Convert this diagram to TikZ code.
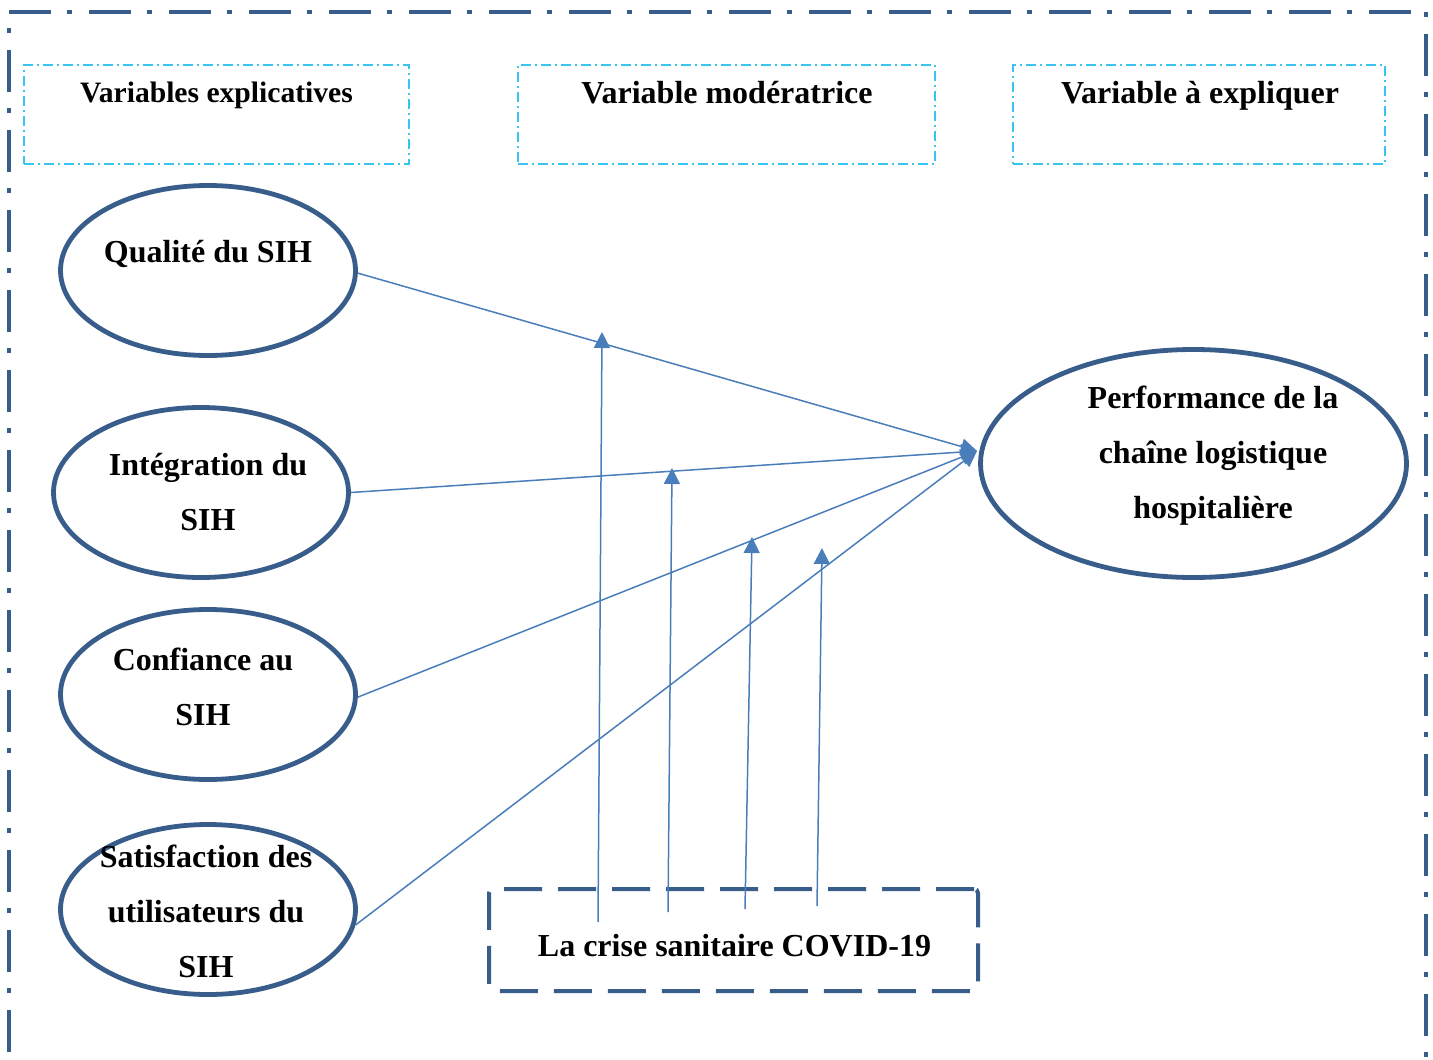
\documentclass[tikz,border=0pt]{standalone}
\usepackage{fontspec}
\setmainfont{Liberation Serif}
\usetikzlibrary{arrows.meta,shapes.geometric}
\definecolor{frameblue}{HTML}{385D8A}
\definecolor{arrowblue}{HTML}{4A7EBB}
\definecolor{cyanbox}{HTML}{3CC4F0}
\begin{document}
\begin{tikzpicture}[x=0.5pt,y=-0.5pt,
  varell/.style={ellipse, draw=frameblue, line width=2.4pt, inner sep=0pt},
  lbl/.style={anchor=base, inner sep=0pt, font=\fontsize{16}{27.5}\selectfont\bfseries},
  hdr/.style={draw=cyanbox, line width=0.7pt, inner sep=0pt, dash pattern=on 5pt off 2pt on 1pt off 2pt},
  link/.style={draw=arrowblue, line width=0.75pt, -{Triangle[length=8pt,width=8pt]}},
  framel/.style={draw=frameblue, line width=2.1pt, dash pattern=on 21pt off 8pt on 2.5pt off 8.5pt}]
\useasboundingbox (0,0) rectangle (1433,1059);
\clip (0,0) rectangle (1433,1059);
% outer frame
\draw[framel] (9,12) -- (1426,12);
\draw[framel, dash phase=21pt] (9,12) -- (9,1100);
\draw[framel, dash phase=29pt] (1426,12) -- (1426,1100);
% header boxes
\node[hdr, minimum width=192.5pt, minimum height=49.5pt] (h1) at (216.5,114.5) {};
\node[hdr, minimum width=208.5pt, minimum height=49.5pt] (h2) at (726.5,114.5) {};
\node[hdr, minimum width=186pt, minimum height=49.5pt] (h3) at (1199,114.5) {};
\node[lbl, font=\fontsize{14.8}{27.5}\selectfont\bfseries] (t1) at (216.5,102.5) {Variables explicatives};
\node[lbl] (t2) at (727,104) {Variable modératrice};
\node[lbl] (t3) at (1200,104) {Variable à expliquer};
% ellipses
\node[varell, minimum width=147.5pt, minimum height=85pt] (q) at (208,270.5) {};
\node[varell, minimum width=147.5pt, minimum height=85pt] (i) at (201,492.5) {};
\node[varell, minimum width=147.5pt, minimum height=85pt] (c) at (208,694.5) {};
\node[varell, minimum width=147.5pt, minimum height=85pt] (s) at (208,909.5) {};
\node[varell, minimum width=213pt, minimum height=114pt] (p) at (1193.5,463.5) {};
% texts
\node[lbl] (qt) at (208,263) {Qualité du SIH};
\node[lbl] (it) at (208,475) {\begin{tabular}[t]{@{}c@{}}Intégration du\\SIH\end{tabular}};
\node[lbl] (ct) at (203,670) {\begin{tabular}[t]{@{}c@{}}Confiance au\\SIH\end{tabular}};
\node[lbl] (st) at (206,867) {\begin{tabular}[t]{@{}c@{}}Satisfaction des\\utilisateurs du\\SIH\end{tabular}};
\node[lbl] (pt) at (1213,408) {\begin{tabular}[t]{@{}c@{}}Performance de la\\chaîne logistique\\hospitalière\end{tabular}};
% moderator box
\node[draw=frameblue, line width=2pt, dash pattern=on 19pt off 8pt, rounded corners=2pt,
      minimum width=244.5pt, minimum height=51pt, inner sep=0pt] (cv) at (733.5,940) {};
\node[lbl] (cvt) at (734.5,956) {La crise sanitaire COVID-19};
% links
\coordinate (conv) at (977,451);
\draw[link] (q.-1) -- (conv);
\draw[link] (i.east) -- (conv);
\draw[link] (c.-1) -- (conv);
\draw[link] (s.-6) -- (conv);
% moderation arrows
\coordinate (m1s) at (598,922); \coordinate (m1e) at (602,332);
\coordinate (m2s) at (668,912); \coordinate (m2e) at (672,468);
\coordinate (m3s) at (745,909); \coordinate (m3e) at (752,537);
\coordinate (m4s) at (817,906); \coordinate (m4e) at (822,548);
\draw[link] (m1s) -- (m1e);
\draw[link] (m2s) -- (m2e);
\draw[link] (m3s) -- (m3e);
\draw[link] (m4s) -- (m4e);
\end{tikzpicture}
\end{document}
